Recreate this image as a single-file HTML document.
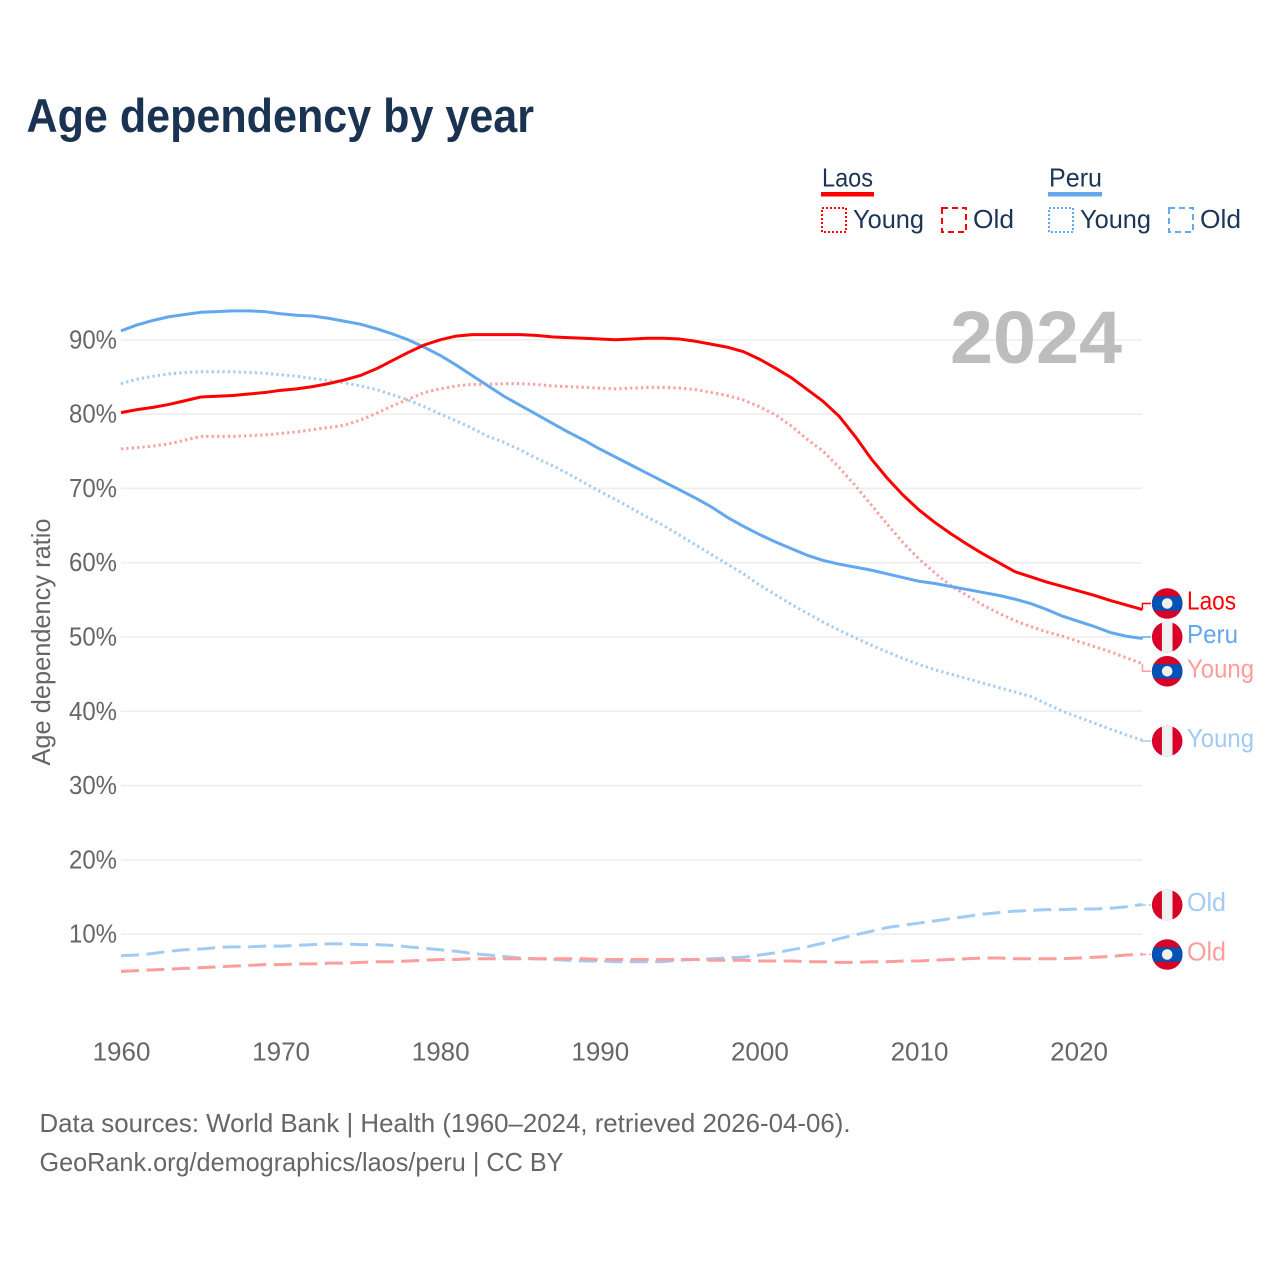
<!DOCTYPE html>
<html lang="en">
<head>
<meta charset="utf-8">
<title>Age dependency by year</title>
<style>
html,body{margin:0;padding:0;background:#fff;}
svg{display:block;font-family:"Liberation Sans",sans-serif;}
</style>
</head>
<body>
<svg id="chart" xmlns="http://www.w3.org/2000/svg" width="1280" height="1280" viewBox="0 0 1280 1280">
  <defs>
    <clipPath id="flag-clip"><circle cx="0" cy="0" r="15.3"/></clipPath>
    <g id="flag-laos">
      <g clip-path="url(#flag-clip)">
        <rect x="-16" y="-16" width="32" height="32" fill="#d80027"/>
        <rect x="-16" y="-7.2" width="32" height="14.4" fill="#0052b4"/>
        <circle cx="0" cy="0" r="5.3" fill="#f0f0f0"/>
      </g>
    </g>
    <g id="flag-peru">
      <g clip-path="url(#flag-clip)">
        <rect x="-16" y="-16" width="32" height="32" fill="#d80027"/>
        <rect x="-5.3" y="-16" width="10.6" height="32" fill="#f0f0f0"/>
      </g>
    </g>
  </defs>

  <rect x="0" y="0" width="1280" height="1280" fill="#fff"/>

  <text x="26.5" y="132" font-size="47" font-weight="700" fill="#1a3352" textLength="507.5" lengthAdjust="spacingAndGlyphs">Age dependency by year</text>

  <g font-size="26" fill="#1c3557">
    <text x="822" y="186.5" textLength="51" lengthAdjust="spacingAndGlyphs">Laos</text>
    <rect x="821" y="192" width="53" height="4.5" fill="#ff0000"/>
    <rect x="822" y="208" width="24" height="24" fill="none" stroke="#ff0000" stroke-width="2" stroke-dasharray="2 2"/>
    <text x="853" y="228" textLength="71" lengthAdjust="spacingAndGlyphs">Young</text>
    <rect x="942" y="208" width="24" height="24" fill="none" stroke="#ff0000" stroke-width="2" stroke-dasharray="6 4"/>
    <text x="973" y="228" textLength="41" lengthAdjust="spacingAndGlyphs">Old</text>

    <text x="1049" y="186.5" textLength="53" lengthAdjust="spacingAndGlyphs">Peru</text>
    <rect x="1048" y="192" width="54" height="4.5" fill="#63a8ef"/>
    <rect x="1049" y="208" width="24" height="24" fill="none" stroke="#63a8ef" stroke-width="2" stroke-dasharray="2 2"/>
    <text x="1080" y="228" textLength="71" lengthAdjust="spacingAndGlyphs">Young</text>
    <rect x="1169" y="208" width="24" height="24" fill="none" stroke="#63a8ef" stroke-width="2" stroke-dasharray="6 4"/>
    <text x="1200" y="228" textLength="41" lengthAdjust="spacingAndGlyphs">Old</text>
  </g>

  <g id="grid"></g>
  <g id="y-ticks"></g>
  <g id="x-ticks"></g>

  <text transform="translate(50,642) rotate(-90)" text-anchor="middle" font-size="26" fill="#666" textLength="247" lengthAdjust="spacingAndGlyphs">Age dependency ratio</text>

  <text x="1122" y="363" text-anchor="end" font-size="74" font-weight="700" fill="#bdbdbd" textLength="172" lengthAdjust="spacingAndGlyphs">2024</text>

  <g id="series"></g>
  <g id="end-labels"></g>

  <g font-size="26" fill="#666">
    <text x="39.5" y="1132" textLength="811" lengthAdjust="spacingAndGlyphs">Data sources: World Bank | Health (1960–2024, retrieved 2026-04-06).</text>
    <text x="39.5" y="1171" textLength="524" lengthAdjust="spacingAndGlyphs">GeoRank.org/demographics/laos/peru | CC BY</text>
  </g>
</svg>
<script>
const startYear = 1960;
const xTickYears = [1960, 1970, 1980, 1990, 2000, 2010, 2020];
const yTickValues = [10, 20, 30, 40, 50, 60, 70, 80, 90];

const laosTotal = [
  80.2, 80.6, 80.9, 81.3, 81.8, 82.3, 82.4, 82.5, 82.7, 82.9,
  83.2, 83.4, 83.7, 84.1, 84.6, 85.2, 86.1, 87.2, 88.3, 89.3,
  90.0, 90.5, 90.7, 90.7, 90.7, 90.7, 90.6, 90.4, 90.3, 90.2,
  90.1, 90.0, 90.1, 90.2, 90.2, 90.1, 89.8, 89.4, 89.0, 88.4,
  87.4, 86.2, 84.9, 83.3, 81.7, 79.7, 77.0, 74.0, 71.4, 69.1,
  67.1, 65.4, 63.9, 62.5, 61.2, 60.0, 58.8, 58.1, 57.4, 56.8,
  56.2, 55.6, 54.9, 54.3, 53.7
];
const peruTotal = [
  91.2, 92.0, 92.6, 93.1, 93.4, 93.7, 93.8, 93.9, 93.9, 93.8,
  93.5, 93.3, 93.2, 92.9, 92.5, 92.1, 91.5, 90.8, 90.0, 89.0,
  87.9, 86.6, 85.2, 83.8, 82.4, 81.2, 80.0, 78.8, 77.6, 76.5,
  75.3, 74.2, 73.1, 72.0, 70.9, 69.8, 68.7, 67.5, 66.1, 64.9,
  63.8, 62.8, 61.9, 61.0, 60.3, 59.8, 59.4, 59.0, 58.5, 58.0,
  57.5, 57.2, 56.8, 56.4, 56.0, 55.6, 55.1, 54.5, 53.7, 52.8,
  52.1, 51.4, 50.6, 50.1, 49.8
];
const laosYoung = [
  75.3, 75.5, 75.7, 76.0, 76.5, 77.0, 77.0, 77.0, 77.1, 77.2,
  77.4, 77.6, 77.9, 78.2, 78.5, 79.2, 80.1, 81.1, 82.0, 82.9,
  83.4, 83.8, 84.0, 84.0, 84.1, 84.1, 84.0, 83.8, 83.7, 83.6,
  83.5, 83.4, 83.5, 83.6, 83.6, 83.5, 83.3, 82.9, 82.5, 81.9,
  81.0, 79.9, 78.4, 76.6, 75.0, 72.8, 70.4, 67.8, 65.2, 62.7,
  60.5, 58.6, 56.9, 55.6, 54.3, 53.2, 52.2, 51.4, 50.7, 50.1,
  49.4, 48.7, 48.0, 47.2, 46.4
];
const peruYoung = [
  84.1, 84.7, 85.1, 85.4, 85.6, 85.7, 85.7, 85.7, 85.6, 85.5,
  85.3, 85.1, 84.8, 84.5, 84.2, 83.8, 83.3, 82.6, 81.9, 81.0,
  80.0, 79.1, 78.1, 77.0, 76.2, 75.2, 74.1, 73.1, 72.0, 70.8,
  69.6, 68.5, 67.3, 66.1, 65.0, 63.7, 62.4, 61.1, 59.8, 58.5,
  57.0, 55.7, 54.4, 53.2, 52.0, 50.9, 49.9, 48.9, 48.0, 47.1,
  46.3, 45.6, 45.0, 44.4, 43.8, 43.2, 42.6, 42.0, 41.0, 40.0,
  39.2, 38.4, 37.6, 36.8, 36.1
];
const peruOld = [
  7.1, 7.2, 7.4, 7.7, 7.9, 8.0, 8.2, 8.3, 8.3, 8.4,
  8.4, 8.5, 8.6, 8.7, 8.7, 8.6, 8.6, 8.5, 8.3, 8.1,
  7.9, 7.7, 7.4, 7.2, 7.0, 6.8, 6.7, 6.6, 6.5, 6.4,
  6.4, 6.3, 6.3, 6.3, 6.3, 6.5, 6.6, 6.7, 6.8, 6.9,
  7.2, 7.5, 7.9, 8.3, 8.8, 9.4, 9.9, 10.4, 10.9, 11.2,
  11.5, 11.8, 12.1, 12.4, 12.7, 12.9, 13.1, 13.2, 13.3, 13.3,
  13.4, 13.4, 13.5, 13.7, 14.0
];
const laosOld = [
  5.0, 5.1, 5.2, 5.3, 5.4, 5.5, 5.6, 5.7, 5.8, 5.9,
  5.9, 6.0, 6.0, 6.1, 6.1, 6.2, 6.3, 6.3, 6.4, 6.5,
  6.6, 6.6, 6.7, 6.7, 6.7, 6.7, 6.7, 6.7, 6.7, 6.7,
  6.6, 6.6, 6.6, 6.6, 6.6, 6.6, 6.6, 6.5, 6.5, 6.5,
  6.4, 6.4, 6.4, 6.3, 6.3, 6.2, 6.2, 6.3, 6.3, 6.4,
  6.4, 6.5, 6.6, 6.7, 6.8, 6.8, 6.7, 6.7, 6.7, 6.7,
  6.8, 6.9, 7.0, 7.2, 7.3
];

const NS = 'http://www.w3.org/2000/svg';
function xScale(year) { return 121 + (year - 1960) * 15.96; }
function yScale(v) { return 934.2 - (v - 10) * 7.43; }
function make(tag, attrs, parent) {
  const el = document.createElementNS(NS, tag);
  for (const k in attrs) el.setAttribute(k, attrs[k]);
  parent.appendChild(el);
  return el;
}

const gridG = document.getElementById('grid');
const yG = document.getElementById('y-ticks');
yTickValues.forEach(function (v) {
  const line = make('line', { x1: 121, x2: 1142, y1: yScale(v), y2: yScale(v), stroke: '#eeeeee', 'stroke-width': 1.6 }, gridG);
  
  
  const t = make('text', { x: 117, y: yScale(v) + 8.5, 'text-anchor': 'end', 'font-size': 26, fill: '#666', textLength: 48, lengthAdjust: 'spacingAndGlyphs' }, yG);
  
  
  t.textContent = v + '%';
});

const xG = document.getElementById('x-ticks');
xTickYears.forEach(function (yr) {
  const t = make('text', { x: xScale(yr) + 0.5, y: 1060.5, 'text-anchor': 'middle', 'font-size': 26, fill: '#666' }, xG);
  
  
  t.textContent = yr;
});

const seriesG = document.getElementById('series');
const labelsG = document.getElementById('end-labels');

function drawLine(values, name, color, dash) {
  const pts = values.map(function (v, i) {
    return xScale(startYear + i).toFixed(2) + ',' + yScale(v).toFixed(2);
  }).join(' ');
  const attrs = { points: pts, fill: 'none', stroke: color, 'stroke-width': 3, 'stroke-linejoin': 'round' };
  if (dash) attrs['stroke-dasharray'] = dash;
  const line = make('polyline', attrs, seriesG);
  
  
}

function drawEnd(values, name, color, dash, labelText, flag, slotY, textWidth) {
  const lastIndex = values.length - 1;
  const ex = xScale(startYear + lastIndex);
  const ey = yScale(values[lastIndex]);
  const conn = make('path', { d: 'M' + ex + ',' + ey + ' V' + slotY + ' H1151', fill: 'none', stroke: color, 'stroke-width': 1.5 }, labelsG);
  if (dash) conn.setAttribute('stroke-dasharray', '4 3');
  
  
  const f = make('use', { href: '#' + flag, x: 1167.2, y: slotY }, labelsG);
  
  
  const t = make('text', { x: 1187, y: slotY + 6, 'font-size': 26, fill: color, textLength: textWidth, lengthAdjust: 'spacingAndGlyphs' }, labelsG);
  
  
  t.textContent = labelText;
}

const dotted = '2.2 3.2';
const dashed = '18 7.5';
drawLine(peruOld, 'line-peru-old', '#a1cbf5', dashed);
drawLine(laosOld, 'line-laos-old', '#ff9c9c', dashed);
drawLine(peruYoung, 'line-peru-young', '#a1cbf5', dotted);
drawLine(laosYoung, 'line-laos-young', '#ff9c9c', dotted);
drawLine(peruTotal, 'line-peru-total', '#63a8ef', null);
drawLine(laosTotal, 'line-laos-total', '#ff0000', null);

drawEnd(laosTotal, 'end-laos-total', '#ff0000', false, 'Laos', 'flag-laos', 603.5, 49);
drawEnd(peruTotal, 'end-peru-total', '#63a8ef', false, 'Peru', 'flag-peru', 637, 51);
drawEnd(laosYoung, 'end-laos-young', '#ff9c9c', false, 'Young', 'flag-laos', 671.3, 67);
drawEnd(peruYoung, 'end-peru-young', '#a1cbf5', false, 'Young', 'flag-peru', 741, 67);
drawEnd(peruOld, 'end-peru-old', '#a1cbf5', true, 'Old', 'flag-peru', 905, 39);
drawEnd(laosOld, 'end-laos-old', '#ff9c9c', true, 'Old', 'flag-laos', 954.5, 39);
</script>
</body>
</html>
